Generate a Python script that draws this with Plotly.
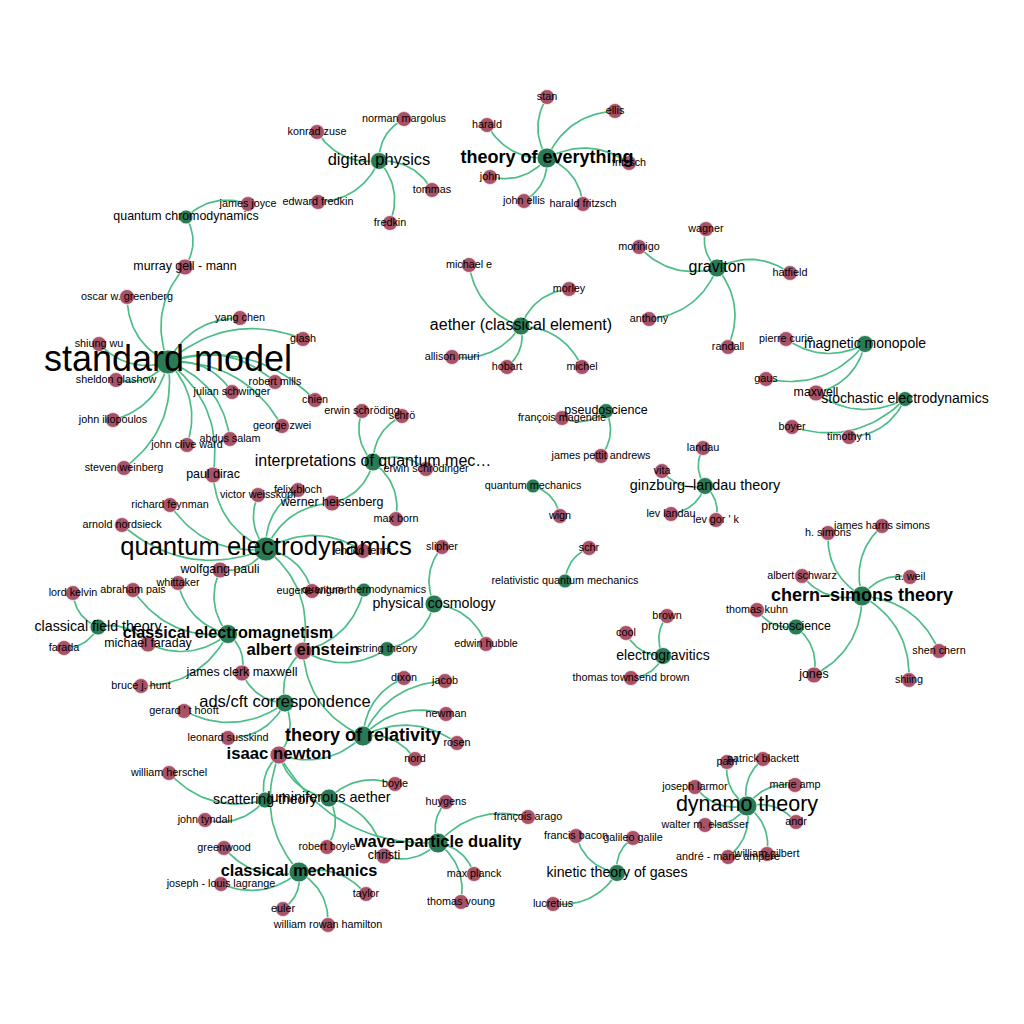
import numpy as np
import plotly.graph_objects as go

# ---------------- data ----------------
topic_names = [
    "standard model", "quantum chromodynamics", "digital physics", "theory of everything",
    "aether (classical element)", "graviton", "magnetic monopole", "stochastic electrodynamics",
    "pseudoscience", "interpretations of quantum mec…", "ginzburg–landau theory", "quantum mechanics",
    "relativistic quantum mechanics", "quantum electrodynamics", "chern–simons theory", "protoscience",
    "quantum thermodynamics", "physical cosmology", "string theory", "classical field theory",
    "classical electromagnetism", "electrogravitics", "ads/cft correspondence", "theory of relativity",
    "dynamo theory", "scattering theory", "luminiferous aether", "wave–particle duality",
    "kinetic theory of gases", "classical mechanics",
]
topic_x = [168, 186, 379, 547, 521, 717, 865, 905, 606, 373, 705, 533, 565, 266, 862, 796,
           364, 434, 387, 98, 228, 663, 285, 363, 747, 265, 329, 438, 617, 299]
topic_y = [362, 217, 161, 158, 326, 268, 344, 399, 411, 462, 486, 486, 581, 549, 596, 627,
           590, 604, 649, 627, 634, 656, 703, 736, 806, 800, 798, 843, 873, 872]

person_names = [
    "murray gell - mann", "oscar w. greenberg", "yang chen", "glash", "shiung wu", "sheldon glashow",
    "robert mills", "julian schwinger", "chien", "john iliopoulos", "george zwei", "abdus salam",
    "john clive ward", "steven weinberg", "paul dirac", "james joyce",
    "konrad zuse", "norman margolus", "tommas", "fredkin", "edward fredkin",
    "stan", "ellis", "harald", "fritzsch", "john", "john ellis", "harald fritzsch",
    "michael e", "morley", "allison muri", "hobart", "michel",
    "wagner", "morinigo", "hatfield", "anthony", "randall",
    "pierre curie", "gaus", "maxwell", "boyer", "timothy h",
    "françois magendie", "james pettit andrews",
    "erwin schröding", "schrö", "erwin schrödinger", "max born", "werner heisenberg",
    "landau", "vita", "lev landau", "lev gor ' k",
    "wign", "schr",
    "victor weisskopf", "felix bloch", "richard feynman", "arnold nordsieck", "enrico fermi",
    "wolfgang pauli", "eugene wigner", "albert einstein",
    "slipher", "edwin hubble",
    "lord kelvin", "abraham pais", "whittaker", "farada", "michael faraday", "bruce j. hunt",
    "james clerk maxwell",
    "gerard ' t hooft", "leonard susskind", "isaac newton",
    "dixon", "jacob", "newman", "rosen", "nord",
    "brown", "cool", "thomas townsend brown",
    "h. simons", "james harris simons", "albert schwarz", "a. weil", "shen chern", "shiing",
    "jones", "thomas kuhn",
    "william herschel", "john tyndall",
    "boyle", "robert boyle", "christi",
    "huygens", "françois arago", "max planck", "thomas young",
    "greenwood", "joseph - louis lagrange", "euler", "william rowan hamilton", "taylor",
    "francis bacon", "galileo galile", "lucretius",
    "patri", "patrick blackett", "joseph larmor", "marie amp", "andr", "walter m. elsasser",
    "andré - marie ampère", "william gilbert",
]
person_x = [
    185, 127, 240, 303, 99, 116, 275, 232, 315, 113, 282, 230, 187, 124, 213, 248,
    317, 404, 432, 390, 318,
    547, 615, 487, 629, 490, 524, 583,
    469, 569, 452, 507, 582,
    706, 639, 790, 649, 728,
    786, 766, 816, 792, 849,
    562, 601,
    362, 402, 426, 396, 332,
    703, 662, 671, 716,
    560, 589,
    258, 298, 170, 122, 363, 220, 312, 303,
    442, 486,
    73, 133, 178, 64, 148, 141, 242,
    184, 228, 279,
    404, 445, 446, 457, 415,
    667, 626, 631,
    828, 882, 802, 910, 939, 909, 814, 757,
    169, 205,
    395, 327, 384,
    446, 528, 474, 461,
    224, 221, 283, 328, 366,
    576, 633, 553,
    727, 763, 695, 795, 796, 705, 728, 767,
]
person_y = [
    267, 297, 318, 339, 344, 380, 382, 392, 400, 420, 426, 439, 445, 468, 475, 204,
    132, 119, 190, 223, 202,
    97, 111, 125, 163, 177, 201, 204,
    265, 289, 357, 367, 367,
    229, 247, 273, 319, 347,
    339, 379, 393, 427, 437,
    418, 456,
    411, 416, 469, 519, 503,
    448, 471, 514, 520,
    516, 548,
    495, 490, 505, 525, 551, 570, 591, 651,
    547, 644,
    593, 590, 583, 648, 644, 686, 673,
    711, 738, 755,
    678, 681, 714, 743, 759,
    616, 633, 678,
    533, 526, 576, 577, 651, 680, 675, 610,
    773, 820,
    784, 847, 856,
    802, 817, 874, 902,
    848, 884, 909, 925, 894,
    836, 838, 904,
    762, 759, 787, 785, 822, 825, 857, 854,
]

edges = {
    "standard model": ["oscar w. greenberg", "murray gell - mann", "yang chen", "glash", "shiung wu",
                       "sheldon glashow", "robert mills", "julian schwinger", "chien", "john iliopoulos",
                       "george zwei", "abdus salam", "john clive ward", "steven weinberg", "paul dirac"],
    "quantum chromodynamics": ["james joyce", "murray gell - mann"],
    "digital physics": ["konrad zuse", "norman margolus", "tommas", "fredkin", "edward fredkin"],
    "theory of everything": ["stan", "ellis", "harald", "fritzsch", "john", "john ellis", "harald fritzsch"],
    "aether (classical element)": ["michael e", "morley", "allison muri", "hobart", "michel"],
    "graviton": ["wagner", "morinigo", "hatfield", "anthony", "randall"],
    "magnetic monopole": ["pierre curie", "gaus", "maxwell"],
    "stochastic electrodynamics": ["maxwell", "boyer", "timothy h"],
    "pseudoscience": ["françois magendie", "james pettit andrews"],
    "interpretations of quantum mec…": ["erwin schröding", "schrö", "erwin schrödinger", "max born",
                                        "werner heisenberg"],
    "ginzburg–landau theory": ["landau", "vita", "lev landau", "lev gor ' k"],
    "quantum mechanics": ["wign"],
    "relativistic quantum mechanics": ["schr"],
    "quantum electrodynamics": ["paul dirac", "victor weisskopf", "felix bloch", "werner heisenberg",
                                "richard feynman", "arnold nordsieck", "enrico fermi", "wolfgang pauli",
                                "eugene wigner", "albert einstein"],
    "classical electromagnetism": ["wolfgang pauli", "whittaker", "abraham pais", "michael faraday",
                                   "bruce j. hunt", "james clerk maxwell"],
    "classical field theory": ["lord kelvin", "farada", "michael faraday"],
    "quantum thermodynamics": ["albert einstein"],
    "string theory": ["albert einstein"],
    "physical cosmology": ["slipher", "edwin hubble", "string theory"],
    "ads/cft correspondence": ["james clerk maxwell", "gerard ' t hooft", "leonard susskind",
                               "isaac newton", "albert einstein"],
    "theory of relativity": ["dixon", "jacob", "newman", "rosen", "nord", "albert einstein", "isaac newton"],
    "scattering theory": ["william herschel", "john tyndall", "isaac newton"],
    "luminiferous aether": ["boyle", "robert boyle", "christi", "isaac newton"],
    "wave–particle duality": ["huygens", "françois arago", "christi", "max planck", "thomas young",
                              "isaac newton"],
    "classical mechanics": ["greenwood", "joseph - louis lagrange", "euler", "william rowan hamilton",
                            "taylor", "isaac newton"],
    "kinetic theory of gases": ["francis bacon", "galileo galile", "lucretius"],
    "dynamo theory": ["patri", "patrick blackett", "joseph larmor", "marie amp", "andr",
                      "walter m. elsasser", "andré - marie ampère", "william gilbert"],
    "electrogravitics": ["brown", "cool", "thomas townsend brown"],
    "chern–simons theory": ["h. simons", "james harris simons", "albert schwarz", "a. weil",
                            "shen chern", "shiing", "jones"],
    "protoscience": ["thomas kuhn", "jones"],
}

# ---------------- styles ----------------
topic_marker_px = [24, 14, 17, 20, 18, 18, 17, 15, 15, 18, 17, 14, 14, 24, 20, 16,
                   14, 18, 15, 16, 19, 17, 18, 20, 20, 16, 18, 20, 17, 20]
topic_font_px = [36, 12.4, 16.5, 18, 16, 16, 14, 14, 12.5, 16, 14.4, 10.8, 10.8, 25.6, 18, 12.3,
                 10.8, 14.2, 11, 14.2, 16.2, 14, 16.5, 18, 21.5, 14.1, 14.5, 16.6, 14.2, 16.3]
bold_labels = {"theory of everything", "chern–simons theory", "classical electromagnetism",
               "theory of relativity", "wave–particle duality", "classical mechanics",
               "albert einstein", "isaac newton"}

GREEN = "#2a7a55"
RED = "#a85268"
EDGE = "#4dbd88"
FONT = "Liberation Sans, Arial, sans-serif"

pos = {}
for n, x, y in zip(topic_names, topic_x, topic_y):
    pos[n] = (x, y)
for n, x, y in zip(person_names, person_x, person_y):
    pos[n] = (x, y)

degree = {n: 0 for n in pos}
for s, ts in edges.items():
    for t in ts:
        degree[s] += 1
        degree[t] += 1

# ---------------- curved edges (quadratic bezier) ----------------
ex, ey = [], []
tt = np.linspace(0, 1, 26)
for s, ts in edges.items():
    x1, y1 = pos[s]
    for t in ts:
        x2, y2 = pos[t]
        dx, dy = x2 - x1, y2 - y1
        cx = (x1 + x2) / 2 + 0.3 * dy
        cy = (y1 + y2) / 2 - 0.3 * dx
        bx = (1 - tt) ** 2 * x1 + 2 * (1 - tt) * tt * cx + tt ** 2 * x2
        by = (1 - tt) ** 2 * y1 + 2 * (1 - tt) * tt * cy + tt ** 2 * y2
        ex += list(bx) + [None]
        ey += list(by) + [None]

fig = go.Figure()
fig.add_trace(go.Scatter(x=ex, y=ey, mode="lines", line=dict(color=EDGE, width=1.7),
                         hoverinfo="skip"))

# nodes
p_marker = []
for n in person_names:
    if n in bold_labels:
        p_marker.append(18)
    elif degree[n] >= 2:
        p_marker.append(16)
    else:
        p_marker.append(15)

fig.add_trace(go.Scatter(x=person_x, y=person_y, mode="markers",
                         marker=dict(size=p_marker, color=RED, opacity=1,
                                     line=dict(color="rgba(255,235,240,0.8)", width=1)),
                         hoverinfo="skip"))
fig.add_trace(go.Scatter(x=topic_x, y=topic_y, mode="markers",
                         marker=dict(size=topic_marker_px, color=GREEN, opacity=1,
                                     line=dict(color="rgba(235,255,245,0.8)", width=1)),
                         hoverinfo="skip"))

# labels
lab_n, lab_x, lab_y, lab_s = [], [], [], []
bold_n, bold_x, bold_y, bold_s = [], [], [], []
for n, x, y, s in zip(topic_names, topic_x, topic_y, topic_font_px):
    if n in bold_labels:
        bold_n.append(n); bold_x.append(x); bold_y.append(y); bold_s.append(s)
    else:
        lab_n.append(n); lab_x.append(x); lab_y.append(y); lab_s.append(s)
for n, x, y in zip(person_names, person_x, person_y):
    if n in bold_labels:
        bold_n.append(n); bold_x.append(x); bold_y.append(y); bold_s.append(16.7)
    else:
        lab_n.append(n); lab_x.append(x); lab_y.append(y)
        lab_s.append(12.4 if degree[n] >= 2 else 10.8)

fig.add_trace(go.Scatter(x=lab_x, y=lab_y, mode="text", text=lab_n, textposition="middle center",
                         textfont=dict(family=FONT, size=lab_s, color="#000000"),
                         hoverinfo="skip"))
fig.add_trace(go.Scatter(x=bold_x, y=bold_y, mode="text", text=bold_n, textposition="middle center",
                         textfont=dict(family=FONT, size=bold_s, color="#000000", weight="bold"),
                         hoverinfo="skip"))

fig.update_layout(
    width=1024, height=1024,
    margin=dict(l=0, r=0, t=0, b=0),
    paper_bgcolor="white", plot_bgcolor="white",
    showlegend=False,
    xaxis=dict(range=[0, 1024], visible=False, fixedrange=True),
    yaxis=dict(range=[1024, 0], visible=False, fixedrange=True),
)

fig.write_html("out.html", config={"displayModeBar": False},
               post_script="document.body.style.margin='0';")
